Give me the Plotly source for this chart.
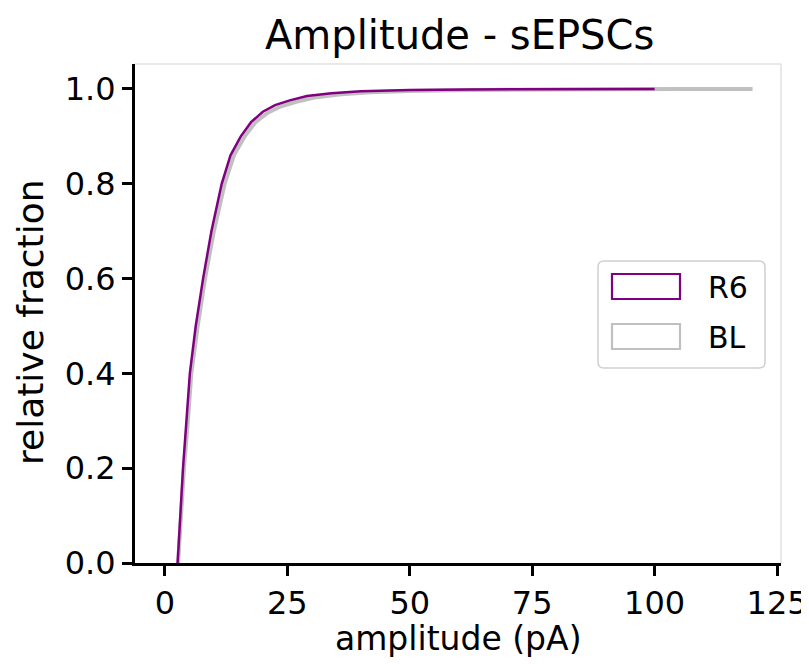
import plotly.graph_objects as go

# ---- data ----
r6_amp = [2.6, 2.8, 3.2, 3.7, 4.4, 5.1, 6.3, 7.8, 9.5, 11.6, 13.4, 15.5, 17.6, 20.0,
          22.5, 25.5, 29, 34, 40, 50, 62, 75, 90, 100]
r6_frac = [0.0, 0.04, 0.12, 0.20, 0.30, 0.40, 0.50, 0.60, 0.70, 0.80, 0.86, 0.90, 0.93, 0.952,
           0.966, 0.976, 0.985, 0.991, 0.995, 0.998, 0.999, 0.9993, 0.9997, 1.0]

bl_amp = [2.7, 2.9, 3.4, 3.9, 4.7, 5.4, 6.7, 8.2, 10.0, 12.2, 14.1, 16.3, 18.5, 21.0,
          23.6, 26.8, 30.5, 36, 42, 50, 62, 75, 90, 105, 120]
bl_frac = [0.0, 0.04, 0.12, 0.20, 0.30, 0.40, 0.50, 0.60, 0.70, 0.80, 0.86, 0.90, 0.93, 0.95,
           0.963, 0.973, 0.982, 0.989, 0.993, 0.996, 0.998, 0.999, 0.9995, 0.9998, 1.0]

x_ticks = [0, 25, 50, 75, 100, 125]
y_ticks = [0.0, 0.2, 0.4, 0.6, 0.8, 1.0]
series_names = ["R6", "BL"]

PURPLE = "#800080"
GRAY = "#c0c0c0"
FONT = "DejaVu Sans"

fig = go.Figure()
fig.add_trace(go.Scatter(x=bl_amp, y=bl_frac, mode="lines", name=series_names[1],
                         line=dict(color=GRAY, width=4), showlegend=False))
fig.add_trace(go.Scatter(x=r6_amp, y=r6_frac, mode="lines", name=series_names[0],
                         line=dict(color=PURPLE, width=2.5), showlegend=False))

# page has an 8px body margin; compensate so the picture lines up with the window
OFF = 8
PAGE_W, PAGE_H = 809, 664
W, H = PAGE_W - OFF, PAGE_H - OFF
# plot area in page pixels: left 135, right 781, top 64, bottom 563
L, R, T, B = 135 - OFF, PAGE_W - 781, 64 - OFF, PAGE_H - 563
pw, ph = W - L - R, H - T - B


def px(x):
    # page pixel x -> paper
    return (x - OFF - L) / pw


def py(y):
    # page pixel y -> paper
    return (H - B - (y - OFF)) / ph


axis_common = dict(showgrid=False, zeroline=False, showline=True, linecolor="black", linewidth=3,
                   ticks="outside", ticklen=10, tickwidth=2.5, tickcolor="black",
                   automargin=False, tickfont=dict(size=32, family=FONT, color="black"))

fig.update_layout(
    width=W, height=H,
    margin=dict(l=L, r=R, t=T, b=B, autoexpand=False),
    paper_bgcolor="white", plot_bgcolor="white",
    font=dict(family=FONT, color="black", size=30),
    showlegend=False,
    xaxis=dict(range=[-6.1, 125.8], tickvals=x_ticks, ticktext=[str(v) for v in x_ticks],
               **axis_common),
    yaxis=dict(range=[0, 1.0527], tickvals=y_ticks, ticktext=[f"{v:.1f}" for v in y_ticks],
               **axis_common),
)

shapes = []
# faint top/right spines
shapes.append(dict(type="line", xref="paper", yref="paper", x0=0, x1=1, y0=1, y1=1,
                   line=dict(color="#e0e0e0", width=1.5)))
shapes.append(dict(type="line", xref="paper", yref="paper", x0=1, x1=1, y0=0, y1=1,
                   line=dict(color="#e0e0e0", width=1.5)))

# legend frame with rounded corners
x0, x1 = px(598), px(765)
y0, y1 = py(368), py(261)
rx, ry = 6 / pw, 6 / ph
path = (f"M {x0+rx},{y0} L {x1-rx},{y0} Q {x1},{y0} {x1},{y0+ry} "
        f"L {x1},{y1-ry} Q {x1},{y1} {x1-rx},{y1} L {x0+rx},{y1} "
        f"Q {x0},{y1} {x0},{y1-ry} L {x0},{y0+ry} Q {x0},{y0} {x0+rx},{y0} Z")
shapes.append(dict(type="path", xref="paper", yref="paper", path=path,
                   line=dict(color="#d0d0d0", width=1.5), fillcolor="rgba(255,255,255,0.8)"))
# legend patches
shapes.append(dict(type="rect", xref="paper", yref="paper", x0=px(612), x1=px(680),
                   y0=py(299), y1=py(274), line=dict(color=PURPLE, width=2.2), fillcolor="white"))
shapes.append(dict(type="rect", xref="paper", yref="paper", x0=px(612), x1=px(680),
                   y0=py(349), y1=py(324), line=dict(color=GRAY, width=2.2), fillcolor="white"))
fig.update_layout(shapes=shapes)

annotations = [
    dict(text=series_names[0], xref="paper", yref="paper", x=px(706), y=py(287),
         xanchor="left", yanchor="middle", showarrow=False, font=dict(size=30, family=FONT)),
    dict(text=series_names[1], xref="paper", yref="paper", x=px(706), y=py(337),
         xanchor="left", yanchor="middle", showarrow=False, font=dict(size=30, family=FONT)),
    dict(text="Amplitude - sEPSCs", xref="paper", yref="paper", x=px(459), y=py(35),
         xanchor="center", yanchor="middle", showarrow=False, font=dict(size=40, family=FONT)),
    dict(text="amplitude (pA)", xref="paper", yref="paper", x=px(458), y=py(638),
         xanchor="center", yanchor="middle", showarrow=False, font=dict(size=33, family=FONT)),
    dict(text="relative fraction", xref="paper", yref="paper", x=px(30), y=py(322), textangle=-90,
         xanchor="center", yanchor="middle", showarrow=False, font=dict(size=36, family=FONT)),
]
fig.update_layout(annotations=annotations)

fig.write_html("out.html")
